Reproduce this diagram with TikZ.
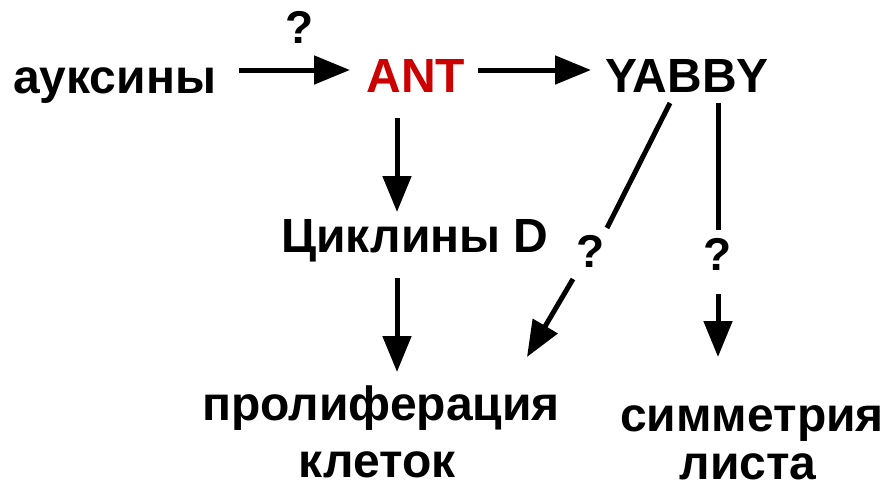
\documentclass[tikz,border=0pt]{standalone}
\usepackage{fontspec}
\setmainfont{Liberation Sans}
\usetikzlibrary{arrows.meta}
\definecolor{antred}{HTML}{CC0000}
\begin{document}
\begin{tikzpicture}[x=1pt,y=-1pt,
  lbl/.style={font=\fontsize{48}{56}\selectfont\bfseries, inner sep=0pt, anchor=base},
  qm/.style={font=\fontsize{46}{52}\selectfont\bfseries, inner sep=0pt, anchor=base},
  arr/.style={line width=5pt, -{Triangle[length=36pt,width=28pt]}},
  ln/.style={line width=5pt}]
\useasboundingbox (0,0) rectangle (884,490);
% texts
\node[lbl, anchor=base west] (aux) at (13,93) {ауксины};
\node[lbl, text=antred] (ant) at (416,92) {ANT};
\node[lbl] (yab) at (687,92) {YABBY};
\node[lbl] (cyc) at (415,252) {Циклины D};
\node[lbl] (pro) at (381,420) {пролиферация};
\node[lbl] (pro2) at (377,477) {клеток};
\node[lbl] (sym) at (752,431) {симметрия};
\node[lbl] (sym2) at (748,479) {листа};
\node[qm] (q1) at (300,43) {?};
\node[qm] (q2) at (591,267) {?};
\node[qm] (q3) at (718,270) {?};
% connector ends
\coordinate (auxE) at (239,70);
\coordinate (antW) at (350,70);
\coordinate (antE) at (478,70);
\coordinate (yabW) at (591,70);
\coordinate (antS) at (397,118);
\coordinate (cycN) at (397,212);
\coordinate (cycS) at (397,278);
\coordinate (proN) at (397,372);
\coordinate (yabSa) at (670,103);
\coordinate (q2N) at (607,228);
\coordinate (q2S) at (573,279);
\coordinate (proNE) at (527,357);
\coordinate (yabSb) at (718,103);
\coordinate (q3N) at (718,230);
\coordinate (q3S) at (718,294);
\coordinate (symN) at (718,357);
% connectors
\draw[arr] (auxE) -- (antW);
\draw[arr] (antE) -- (yabW);
\draw[arr] (antS) -- (cycN);
\draw[arr] (cycS) -- (proN);
\draw[ln] (yabSa) -- (q2N);
\draw[arr] (q2S) -- (proNE);
\draw[ln] (yabSb) -- (q3N);
\draw[arr] (q3S) -- (symN);
\end{tikzpicture}
\end{document}
